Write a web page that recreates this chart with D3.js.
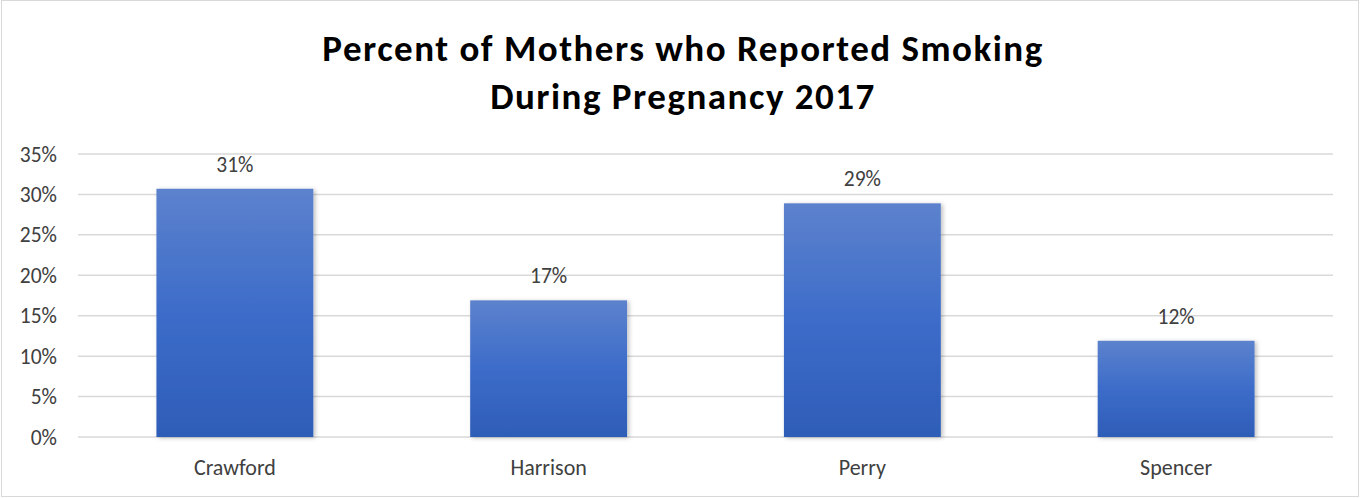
<!DOCTYPE html>
<html><head><meta charset="utf-8">
<script src="https://cdn.jsdelivr.net/npm/d3@7"></script>
<style>body{margin:0;background:#fff}svg{display:block}</style>
</head><body>
<script>
const categories = ["Crawford", "Harrison", "Perry", "Spencer"];
const values = [30.7, 16.9, 28.9, 11.9];
const valueLabels = ["31%", "17%", "29%", "12%"];
const yTicks = [0, 5, 10, 15, 20, 25, 30, 35];
const titleLines = ["Percent of Mothers who Reported Smoking", "During Pregnancy 2017"];

(function () {
const W = 1361, H = 498;
const svg = d3.select("body").append("svg").attr("width", W).attr("height", H);
const defs = svg.append("defs");
const grad = defs.append("linearGradient").attr("id", "barGrad").attr("x1", 0).attr("y1", 0).attr("x2", 0).attr("y2", 1);
grad.append("stop").attr("offset", "0%").attr("stop-color", "#5c82cd");
grad.append("stop").attr("offset", "50%").attr("stop-color", "#3c6cc9");
grad.append("stop").attr("offset", "100%").attr("stop-color", "#2e5db7");
const f = defs.append("filter").attr("id", "shadow").attr("x", "-10%").attr("y", "-10%").attr("width", "130%").attr("height", "130%");
f.append("feDropShadow").attr("dx", 2).attr("dy", 1).attr("stdDeviation", 2).attr("flood-color", "#000").attr("flood-opacity", 0.25);

svg.append("rect").attr("x", 1.5).attr("y", 0.5).attr("width", 1357).attr("height", 496)
  .attr("fill", "#fff").attr("stroke", "#d9d9d9").attr("stroke-width", 1);

const font = "Calibri, Carlito, Lato, 'Open Sans', sans-serif";
const pLeft = 78, pRight = 1333, pTop = 154, pBottom = 437;
const x = d3.scaleBand().domain(categories).range([pLeft, pRight]).paddingInner(0.5).paddingOuter(0.25);
const y = d3.scaleLinear().domain([0, 35]).range([pBottom, pTop]);

svg.append("g").selectAll("line").data(yTicks).join("line")
  .attr("x1", pLeft).attr("x2", pRight)
  .attr("y1", d => y(d)).attr("y2", d => y(d))
  .attr("stroke", "#d9d9d9").attr("stroke-width", 1.5);

svg.append("g").selectAll("text").data(yTicks).join("text")
  .attr("x", 57).attr("y", d => y(d)).attr("dy", "0.35em")
  .attr("text-anchor", "end").attr("font-family", font).attr("font-size", 21.5).attr("fill", "#404040")
  .text(d => d + "%");

svg.append("g").selectAll("rect").data(values).join("rect")
  .attr("x", (d, i) => x(categories[i])).attr("width", x.bandwidth())
  .attr("y", d => y(d)).attr("height", d => y(0) - y(d))
  .attr("fill", "url(#barGrad)").attr("filter", "url(#shadow)");

svg.append("g").selectAll("text").data(values).join("text")
  .attr("x", (d, i) => x(categories[i]) + x.bandwidth() / 2).attr("y", d => y(d) - 17)
  .attr("text-anchor", "middle").attr("font-family", font).attr("font-size", 21.5).attr("fill", "#404040")
  .text((d, i) => valueLabels[i]);

svg.append("g").selectAll("text").data(categories).join("text")
  .attr("x", d => x(d) + x.bandwidth() / 2).attr("y", 475)
  .attr("text-anchor", "middle").attr("font-family", font).attr("font-size", 22).attr("fill", "#404040")
  .text(d => d);

svg.append("g").selectAll("text").data(titleLines).join("text")
  .attr("x", 683).attr("y", (d, i) => 61 + i * 48)
  .attr("text-anchor", "middle").attr("font-family", font).attr("font-weight", "bold")
  .attr("font-size", 37).attr("letter-spacing", 1.5).attr("fill", "#000")
  .text(d => d);
})();
</script>
</body></html>
